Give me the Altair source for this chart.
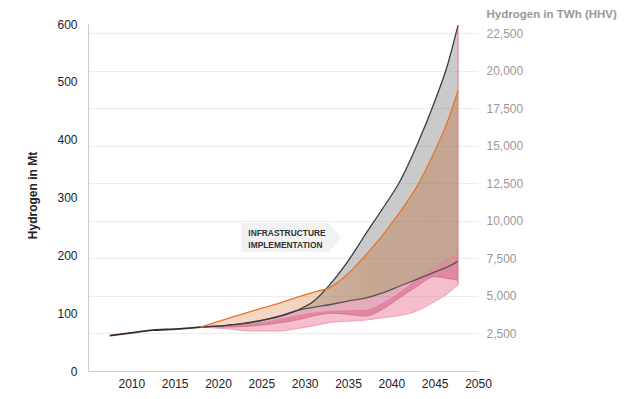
import altair as alt
import pandas as pd

FONT = "Liberation Sans"

# ---- data (Mt of hydrogen) ----
hist_years = [2007.5, 2010, 2012.5, 2015, 2018]
hist_mt = [61, 66, 70.5, 72.5, 76]

years = [2018, 2021, 2024, 2027, 2029, 2031, 2033, 2035, 2037, 2039, 2041, 2043, 2045, 2046.5, 2047.7]
high_mt = [76, 79, 85, 94, 104, 120, 151, 190, 236, 281, 328, 392, 466, 530, 598]
orange_mt = [76, 90, 104, 117, 127, 136, 145, 168, 200, 235, 275, 320, 380, 432, 485]
mid_mt = [76, 79, 84, 95, 104, 110, 115, 121, 126, 135, 147, 159, 171, 180, 190]
pink_top_mt = [76, 78, 82, 90, 96, 101, 104, 105, 106, 118, 137, 160, 182, 195, 203]
pink_mid_mt = [76, 76, 78, 83, 88, 95, 100, 98, 95, 107, 127, 147, 163, 160, 157]
pink_low_mt = [76, 73, 69, 69, 73, 78, 84, 86, 88, 92, 96, 104, 120, 134, 149]

x_ticks = [2010, 2015, 2020, 2025, 2030, 2035, 2040, 2045, 2050]
left_ticks = [0, 100, 200, 300, 400, 500, 600]
right_ticks = [2500, 5000, 7500, 10000, 12500, 15000, 17500, 20000, 22500]
TWH_PER_MT = 38.5

# annotation arrow box (year, Mt)
box_years = [2022.65, 2032.85, 2034.2]
box_lo = [206, 206, 231]
box_hi = [256, 256, 231]
label_lines = ["INFRASTRUCTURE", "IMPLEMENTATION"]
label_year = [2023.5, 2023.5]
label_mt = [238.5, 218.5]

df = pd.DataFrame({
    "year": years, "high": high_mt, "orange": orange_mt, "mid": mid_mt,
    "ptop": pink_top_mt, "pmid": pink_mid_mt, "plow": pink_low_mt,
})
hist = pd.DataFrame({"year": hist_years, "mt": hist_mt})
box = pd.DataFrame({"year": box_years, "lo": box_lo, "hi": box_hi})
labels = pd.DataFrame({"year": label_year, "mt": label_mt, "text": label_lines})
edge = pd.DataFrame({"year": [years[-1]], "lo": [pink_low_mt[-1]], "hi": [high_mt[-1]]})

X = alt.X("year:Q",
          scale=alt.Scale(domain=[2005, 2050], nice=False, zero=False),
          axis=alt.Axis(values=x_ticks, format="d", title=None, grid=False, ticks=False,
                        domainColor="#cccccc", labelColor="#222222", labelFont=FONT,
                        labelFontSize=12, labelPadding=7, labelFlush=False))

YSCALE = alt.Scale(domain=[0, 600], nice=False, zero=True)
YAXIS = alt.Axis(values=left_ticks, grid=False, ticks=False, domainColor="#cccccc",
                 labelColor="#222222", labelFont=FONT, labelFontSize=12, labelPadding=11,
                 title="Hydrogen in Mt", titleFont=FONT, titleFontSize=12,
                 titleFontWeight="bold", titleColor="#222222", titleX=-56, titleY=171,
                 titleBaseline="middle")


def Y(field):
    return alt.Y(field, scale=YSCALE, axis=YAXIS)


base = alt.Chart(df)

annot_box = alt.Chart(box).mark_area(color="#f2f2f2").encode(x=X, y=Y("lo:Q"), y2="hi:Q")
annot_text = alt.Chart(labels).mark_text(align="left", baseline="middle", font=FONT,
                                         fontSize=8.4, fontWeight="bold", color="#333333").encode(
    x=X, y=Y("mt:Q"), text="text:N")

orange_fill = alt.Gradient(
    gradient="linear", x1=0, x2=1, y1=0, y2=0,
    stops=[alt.GradientStop(color="#f0a070", offset=0),
           alt.GradientStop(color="#d8905e", offset=0.45),
           alt.GradientStop(color="#be733e", offset=0.65),
           alt.GradientStop(color="#b87040", offset=1)])

gray_area = base.mark_area(color="#8a8a8a", opacity=0.45, interpolate="monotone").encode(
    x=X, y=Y("mid:Q"), y2="high:Q")
orange_area = base.mark_area(color=orange_fill, opacity=0.4, interpolate="monotone").encode(
    x=X, y=Y("mid:Q"), y2="orange:Q")
pink_a = base.mark_area(color="#ea7d99", opacity=0.5, interpolate="monotone").encode(
    x=X, y=Y("plow:Q"), y2="ptop:Q")
pink_b = base.mark_area(color="#c8466c", opacity=0.45, interpolate="monotone").encode(
    x=X, y=Y("pmid:Q"), y2="mid:Q")

pmid_line = base.mark_line(color="#d46a88", strokeWidth=0.8, interpolate="monotone").encode(x=X, y=Y("pmid:Q"))
plow_line = base.mark_line(color="#e7889f", strokeWidth=0.7, interpolate="monotone").encode(x=X, y=Y("plow:Q"))
mid_line = base.mark_line(color="#555555", strokeWidth=1.3, interpolate="monotone").encode(x=X, y=Y("mid:Q"))
high_line = base.mark_line(color="#3c3c3c", strokeWidth=1.3, interpolate="monotone").encode(x=X, y=Y("high:Q"))
orange_line = base.mark_line(color="#e8742c", strokeWidth=1.3, interpolate="monotone").encode(x=X, y=Y("orange:Q"))
hist_line = alt.Chart(hist).mark_line(color="#3a2a20", strokeWidth=1.8, interpolate="monotone").encode(
    x=X, y=Y("mt:Q"))
edge_rule = alt.Chart(edge).mark_rule(color="#e06a6a", strokeWidth=0.8).encode(
    x=X, y=Y("lo:Q"), y2="hi:Q")

left = alt.layer(annot_box, annot_text, gray_area, orange_area, pink_a, pink_b,
                 pmid_line, plow_line, mid_line, high_line, orange_line, hist_line, edge_rule)

right_df = pd.DataFrame({"twh": [0, 600 * TWH_PER_MT]})
right = alt.Chart(right_df).mark_point(opacity=0).encode(
    y=alt.Y("twh:Q", scale=alt.Scale(domain=[0, 600 * TWH_PER_MT], nice=False),
            axis=alt.Axis(orient="right", values=right_ticks, format=",.0f", grid=True,
                          gridColor="#ececec", ticks=False, domain=False,
                          labelColor="#999999", labelFont=FONT, labelFontSize=12, labelPadding=8,
                          title="Hydrogen in TWh (HHV)", titleAngle=0, titleX=8, titleY=-10,
                          titleAlign="left", titleBaseline="middle", titleColor="#999999",
                          titleFont=FONT, titleFontSize=11.5, titleFontWeight="bold")))

chart = alt.layer(right, left).resolve_scale(y="independent").properties(
    width=390, height=347,
    autosize=alt.AutoSizeParams(type="none"),
    padding={"left": 80, "top": 16, "right": 150, "bottom": 30},
).configure_view(stroke=None)

chart.save("out.html", embed_options={"renderer": "svg", "actions": False})
